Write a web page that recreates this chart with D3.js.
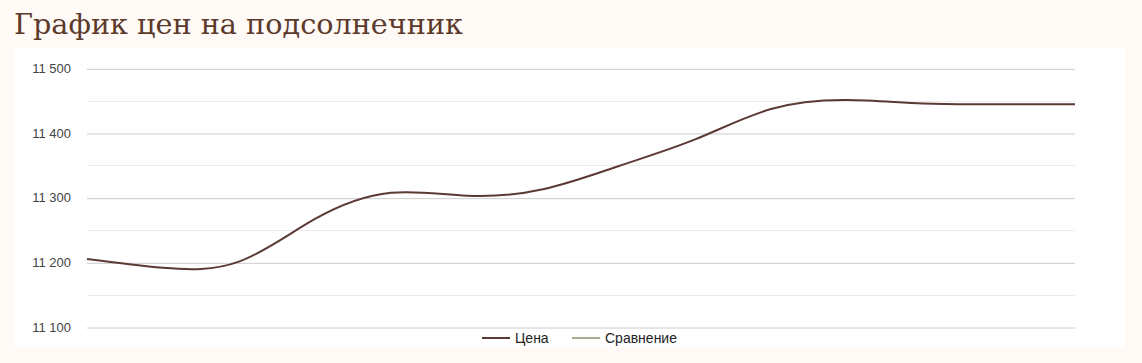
<!DOCTYPE html>
<html><head><meta charset="utf-8">
<script src="https://cdn.jsdelivr.net/npm/d3@7"></script>
<style>
html,body{margin:0;padding:0;background:#fffaf6;}
svg{display:block;}
</style></head>
<body>
<svg id="chart" width="1142" height="363"></svg>
<script>
// ---- data ----
const title = "График цен на подсолнечник";
const categories = ["1","2","3","4","5","6","7","8","9","10","11","12","13","14"];
const priceValues = [11205, 11191.5, 11201, 11267, 11307.5, 11303, 11313, 11349, 11390, 11437, 11451, 11445.5, 11444.5, 11444.5];
const compareValues = [];
const yTicks = [11100, 11200, 11300, 11400, 11500];
const yMinorTicks = [11150, 11250, 11350, 11450];
const seriesNames = ["Цена", "Сравнение"];
const seriesColors = ["#5b3935", "#a7ab92"];

const svg = d3.select("#chart");
const fmt = v => d3.format(",")(v).replace(/,/g, " ");

// panel
svg.append("rect").attr("x", 15).attr("y", 48).attr("width", 1110).attr("height", 299).attr("fill", "#ffffff");

// title
svg.append("text").attr("x", 14).attr("y", 33.5)
  .attr("font-family", "'DejaVu Serif', serif").attr("font-size", 28.7)
  .attr("fill", "#5b3a2c").text(title);

const x = d3.scalePoint().domain(categories).range([87, 1075]);
const y = d3.scaleLinear().domain([11100, 11500]).range([327, 68.3]);

// minor gridlines
svg.append("g").selectAll("line").data(yMinorTicks).join("line")
  .attr("x1", 87).attr("x2", 1075)
  .attr("y1", d => Math.round(y(d)) + 0.5).attr("y2", d => Math.round(y(d)) + 0.5)
  .attr("stroke", "#ebebeb").attr("stroke-width", 1);

// y axis
const yAxis = d3.axisLeft(y).tickValues(yTicks).tickFormat(fmt).tickSize(0).tickPadding(16);
const gy = svg.append("g").attr("transform", "translate(87,0)").call(yAxis);
gy.select(".domain").remove();
gy.selectAll("text").attr("font-family", "'Liberation Sans', Arial, sans-serif")
  .attr("font-size", 13).attr("fill", "#444");
gy.selectAll(".tick").append("line")
  .attr("x1", 0).attr("x2", 988).attr("y1", 0.5).attr("y2", 0.5)
  .attr("stroke", "#cccccc");

// line
const line = d3.line().x((d, i) => x(categories[i])).y(d => y(d)).curve(d3.curveNatural);
svg.append("path").datum(priceValues).attr("d", line)
  .attr("fill", "none").attr("stroke", seriesColors[0]).attr("stroke-width", 2);
if (compareValues.length) {
  svg.append("path").datum(compareValues).attr("d", line)
    .attr("fill", "none").attr("stroke", seriesColors[1]).attr("stroke-width", 2);
}

// legend
const legendX = [482, 572];
const lg = svg.append("g");
seriesNames.forEach((name, i) => {
  lg.append("line").attr("x1", legendX[i]).attr("x2", legendX[i] + 28)
    .attr("y1", 338).attr("y2", 338).attr("stroke", seriesColors[i]).attr("stroke-width", 2);
  lg.append("text").attr("x", legendX[i] + 33).attr("y", 343)
    .attr("font-family", "'Liberation Sans', Arial, sans-serif").attr("font-size", 14)
    .attr("fill", "#222").text(name);
});
</script>
</body></html>
